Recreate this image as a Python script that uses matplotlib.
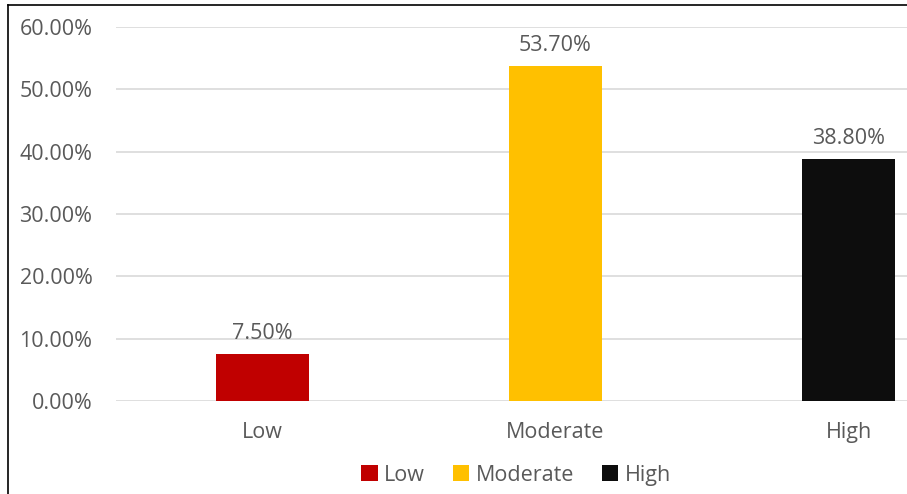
import matplotlib
matplotlib.use("Agg")
import matplotlib.pyplot as plt
from matplotlib.lines import Line2D
from matplotlib.patches import Patch

categories = ["Low", "Moderate", "High"]
values = [7.5, 53.7, 38.8]
colors = ["#C00000", "#FFC000", "#0D0D0D"]
yticks = [0, 10, 20, 30, 40, 50, 60]

plt.rcParams['font.family'] = ['Open Sans', 'DejaVu Sans']
txt = "#595959"
fs = 15.5

W, H = 907, 494
fig = plt.figure(figsize=(W / 100, H / 100), dpi=100)
left, right = 116, 995
top, bottom = 27, 401
ax = fig.add_axes([left / W, (H - bottom) / H, (right - left) / W, (bottom - top) / H])

x = list(range(len(categories)))
bars = ax.bar(x, values, width=0.318, color=colors, zorder=3)
ax.set_xlim(-0.5, 2.5)
ax.set_ylim(0, 60)
ax.set_yticks(yticks)
ax.set_yticklabels([f"{v:.2f}%" for v in yticks])
ax.set_xticks(x)
ax.set_xticklabels(categories)
ax.tick_params(axis='both', length=0, colors=txt, labelsize=fs)
ax.tick_params(axis='y', pad=17)
ax.tick_params(axis='x', pad=15)
for s in ax.spines.values():
    s.set_visible(False)
ax.grid(axis='y', color="#D9D9D9", linewidth=1.2, zorder=0)
ax.set_axisbelow(True)

for b, v in zip(bars, values):
    ax.annotate(f"{v:.2f}%", (b.get_x() + b.get_width() / 2, v), xytext=(0, 15),
                textcoords='offset points', ha='center', va='center', color=txt, fontsize=fs)

handles = [Patch(facecolor=c, label=l) for c, l in zip(colors, categories)]
fig.legend(handles=handles, loc='center', bbox_to_anchor=(516 / W, (H - 475) / H), ncol=3,
           frameon=False, fontsize=fs, labelcolor=txt, handlelength=0.75, handleheight=0.75,
           handletextpad=0.3, columnspacing=1.3)

fig.add_artist(Line2D([8 / W, 8 / W], [0, (H - 5) / H], color='black', linewidth=1.2))
fig.add_artist(Line2D([8 / W, 1], [(H - 5) / H, (H - 5) / H], color='black', linewidth=1.2))

fig.savefig("out.png", dpi=100)
